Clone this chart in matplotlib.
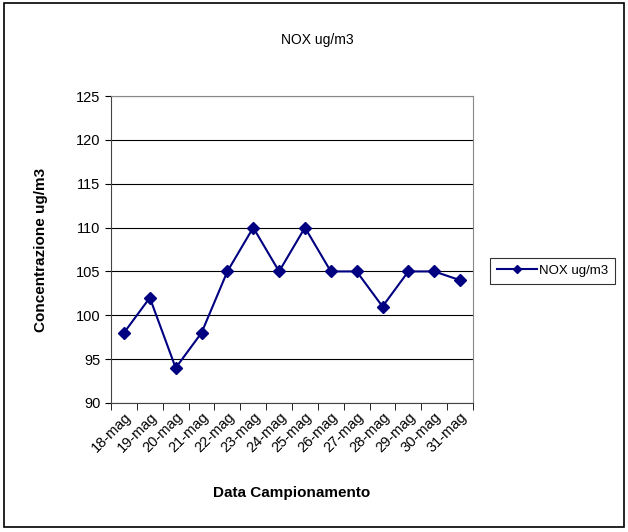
import numpy as np
import matplotlib.pyplot as plt
from matplotlib.patches import Rectangle

plt.rcParams['font.family'] = ['Liberation Sans', 'DejaVu Sans']

dates = ['18-mag', '19-mag', '20-mag', '21-mag', '22-mag', '23-mag', '24-mag',
         '25-mag', '26-mag', '27-mag', '28-mag', '29-mag', '30-mag', '31-mag']
nox = [98, 102, 94, 98, 105, 110, 105, 110, 105, 105, 101, 105, 105, 104]
yticks = [90, 95, 100, 105, 110, 115, 120, 125]

fig = plt.figure(figsize=(6.28, 5.32), dpi=100)
fig.patches.append(Rectangle((0.006, 0.009), 0.988, 0.985, transform=fig.transFigure,
                             fill=False, edgecolor='black', linewidth=1.2))
ax = fig.add_axes([0.1768, 0.2425, 0.5764, 0.577])

x = np.arange(len(dates))
ax.plot(x, nox, color='#000080', marker='D', markersize=6.5, linewidth=1.5, label='NOX ug/m3')

ax.set_xlim(-0.5, len(dates) - 0.5)
ax.set_ylim(90, 125)
ax.set_yticks(yticks)
ax.yaxis.grid(True, color='black', linewidth=0.8)
ax.set_axisbelow(True)
ax.set_xticks(x)
ax.set_xticklabels(dates, rotation=45, ha='right', rotation_mode='anchor', fontsize=10.5)
ax.set_xticks(np.arange(-0.5, len(dates)), minor=True)
ax.tick_params(axis='x', which='major', length=0, pad=5)
ax.tick_params(axis='x', which='minor', length=5, direction='out')
ax.tick_params(axis='y', labelsize=10.5, length=4)
for s in ['top', 'right']:
    ax.spines[s].set_color('#888888')
for s in ['left', 'bottom']:
    ax.spines[s].set_color('#444444')

ax.set_xlabel('Data Campionamento', fontsize=11, fontweight='bold', labelpad=22)
ax.set_ylabel('Concentrazione ug/m3', fontsize=11, fontweight='bold', labelpad=20)
fig.text(0.506, 0.925, 'NOX ug/m3', ha='center', va='center', fontsize=10)

leg = ax.legend(loc='center left', bbox_to_anchor=(1.03, 0.43), fontsize=9.5,
                frameon=True, fancybox=False, edgecolor='black', handlelength=3,
                borderpad=0.5, handletextpad=0.2, markerscale=0.7)
leg.get_frame().set_linewidth(0.8)

fig.savefig('out.png', dpi=100)
